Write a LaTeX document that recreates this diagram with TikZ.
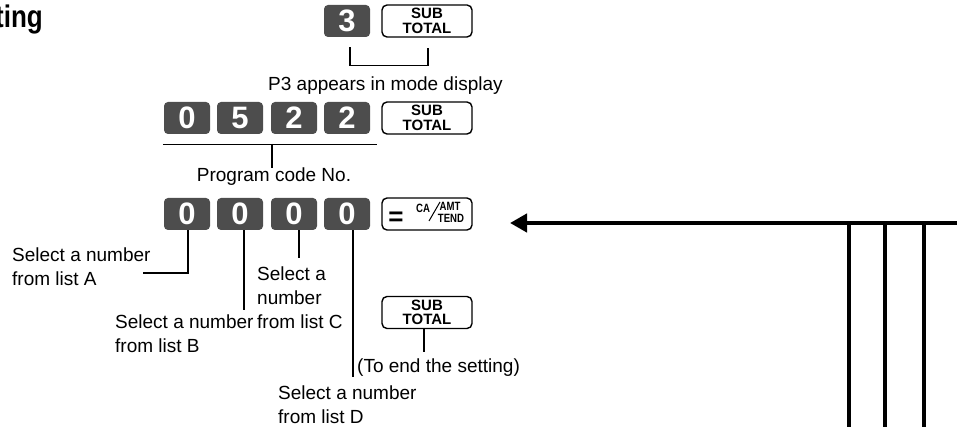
\documentclass[tikz,border=0pt]{standalone}
\usepackage{graphicx}
\usepackage{fontspec}
\setmainfont{Liberation Sans}
\usetikzlibrary{arrows.meta,calc}
\definecolor{keygray}{RGB}{77,77,77}
\newcommand\digitfont{\fontsize{31}{31}\selectfont\bfseries}
\newcommand\fnfont{\fontsize{15}{14.5}\selectfont\bfseries}
\newcommand\lblfont{\fontsize{19}{24}\selectfont}
\newcommand\tinyfnfont{\fontsize{12}{12}\selectfont\bfseries}
\begin{document}
\begin{tikzpicture}[x=1pt,y=-1pt,
  digitkey/.style={rounded corners=4pt, fill=keygray, minimum width=46pt, minimum height=32pt, inner sep=0pt, text=white, font=\digitfont},
  fnkey/.style={draw, line width=1.4pt, rounded corners=5pt, minimum width=90pt, minimum height=32pt, inner sep=0pt, font=\fnfont, align=center},
  lbl/.style={inner sep=0pt, font=\lblfont, align=left},
  thinline/.style={line width=1.1pt},
  thickline/.style={line width=4.5pt},
  tinytxt/.style={inner sep=0pt, font=\tinyfnfont}]
\useasboundingbox (0,0) rectangle (957,427);

% title
\node[inner sep=0pt, anchor=base east, font=\fontsize{26}{26}\selectfont\bfseries] (title) at (43,28) {\scalebox{1}[1.2]{ting}};

% row 1
\node[digitkey] (k13) at (347,21) {3};
\node[fnkey] (s1) at (427,21) {SUB\\TOTAL};
\draw[thinline] ($(k13.south)+(3,10)$) |- ($(s1.south)+(1,28)$) -- ($(s1.south)+(1,10)$);
\node[lbl, anchor=base west] (p3) at (268,91) {P3 appears in mode display};

% row 2
\node[digitkey] (k21) at (187,118) {0};
\node[digitkey] (k22) at (240,118) {5};
\node[digitkey] (k23) at (294,118) {2};
\node[digitkey] (k24) at (347,118) {2};
\node[fnkey] (s2) at (427,118) {SUB\\TOTAL};
\draw[thinline] ($(k21.south west)+(-1,10)$) -- ($(k24.south east)+(7,10)$);
\node[lbl, anchor=base] (pc) at (274,182) {Program code No.};
\coordinate (pcj) at (272,144);
\draw[thinline] (pcj) -- (pcj |- pc.north);

% row 3
\node[digitkey] (k31) at (187,214) {0};
\node[digitkey] (k32) at (240,214) {0};
\node[digitkey] (k33) at (294,214) {0};
\node[digitkey] (k34) at (347,214) {0};
\node[fnkey] (ca) at (427,214) {};
\node[inner sep=0pt, font=\fontsize{26}{26}\selectfont\bfseries] (eq) at ($(ca.center)+(-31,5)$) {=};
\node[tinytxt] (catxt) at ($(ca.center)+(-4,-6)$) {\scalebox{0.8}[1]{CA}};
\node[tinytxt] (amt) at ($(ca.center)+(23,-7.5)$) {\scalebox{0.8}[1]{AMT}};
\node[tinytxt] (tend) at ($(ca.center)+(24,4.5)$) {\scalebox{0.8}[1]{TEND}};
\draw[line width=1pt] ($(ca.center)+(2,7)$) -- ($(ca.center)+(13,-12)$);

% labels
\node[lbl, anchor=north west] (lA) at (12,248) {Select a number\\from list A};
\node[lbl, anchor=north west] (lB) at (115,315) {Select a number\\from list B};
\node[lbl, anchor=north west] (lC) at (257,267) {Select a\\number\\from list C};
\node[lbl, anchor=north west] (lD) at (278,386) {Select a number\\from list D};
\coordinate (aend) at (143,273);
\coordinate (bend) at (244,310);
\coordinate (cend) at (299,258);
\coordinate (dend) at (353,377);
\draw[thinline] ($(k31.south)+(1,0)$) |- (aend);
\draw[thinline] ($(k32.south)+(4,0)$) -- (bend);
\draw[thinline] ($(k33.south)+(5,0)$) -- (cend);
\draw[thinline] ($(k34.south)+(6,0)$) -- (dend);

% end key
\node[fnkey] (s3) at (427,312.5) {SUB\\TOTAL};
\coordinate (eend) at (424,352);
\draw[thinline] ($(s3.south)+(-3,0)$) -- (eend);
\node[lbl, anchor=base west] (endtxt) at (357,372) {(To end the setting)};

% arrow and thick lines
\coordinate (arrR) at (957,223);
\coordinate (arrL) at (510,223);
\draw[thickline, -{Triangle[length=17pt,width=18pt]}] (arrR) -- (arrL);
\coordinate (v1t) at (849,223); \coordinate (v1b) at (849,427);
\coordinate (v2t) at (885,223); \coordinate (v2b) at (885,427);
\coordinate (v3t) at (924,223); \coordinate (v3b) at (924,427);
\draw[thickline] (v1t) -- (v1b);
\draw[thickline] (v2t) -- (v2b);
\draw[thickline] (v3t) -- (v3b);
\end{tikzpicture}
\end{document}
